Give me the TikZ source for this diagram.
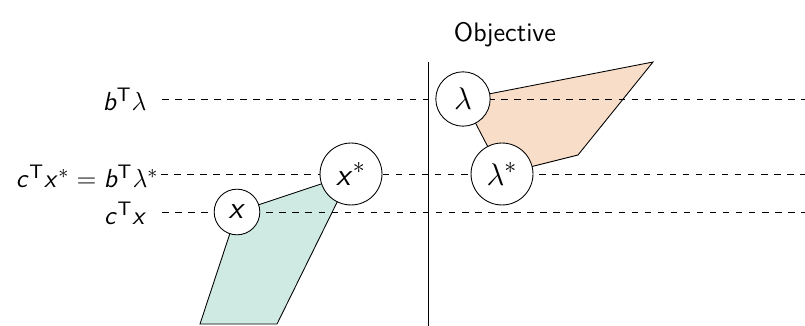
\documentclass[tikz,border=0pt]{standalone}
\usetikzlibrary{positioning}
\DeclareMathAlphabet{\mathsfit}{OT1}{cmss}{m}{sl}
\DeclareMathSizes{12.3}{12.3}{9.5}{7}
\DeclareMathSizes{14}{14}{10.5}{7.5}
\newcommand{\tp}{^{\mathsf{T}}}
\definecolor{primalfill}{HTML}{CFEAE2}
\definecolor{dualfill}{HTML}{F8DDC8}

\begin{document}
\begin{tikzpicture}[x=0.46pt, y=-0.46pt,
    font=\fontsize{12.3}{15}\selectfont,
    vertex/.style={circle, draw, fill=white, inner sep=0pt, font=\fontsize{14}{17}\selectfont},
    level/.style={dashed},
    lbl/.style={anchor=east, inner sep=0pt}]
  \useasboundingbox (0,0) rectangle (805,326);

  % corner points
  \coordinate (px) at (237,212);
  \coordinate (pxs) at (351,174);
  \coordinate (pl) at (463,99);
  \coordinate (pls) at (502,174);

  % feasible sets
  \filldraw[fill=primalfill] (200,324) -- (px) -- (pxs) -- (277,324) -- cycle;
  \filldraw[fill=dualfill] (pl) -- (653,62) -- (578,155) -- (pls) -- cycle;

  % objective axis
  \coordinate (axtop) at (428,62);
  \coordinate (axbot) at (428,326);
  \draw (axtop) -- (axbot);
  \node[font=\fontsize{12.3}{15}\selectfont\sffamily] (obj) at (505,35) {Objective};

  % levels
  \node[lbl] (lb) at (147,99) {$\mathsfit{b}\tp\lambda$};
  \node[lbl] (lopt) at (159,176) {$\mathsfit{c}\tp\mathsfit{x}^* = \mathsfit{b}\tp\lambda^*$};
  \node[lbl] (lc) at (147,213) {$\mathsfit{c}\tp\mathsfit{x}$};
  \coordinate (sb) at (162,99);
  \coordinate (eb) at (805,99);
  \coordinate (sopt) at (161,174);
  \coordinate (eopt) at (805,174);
  \coordinate (sc) at (162,212);
  \coordinate (ec) at (805,212);
  \draw[level] (sb) -- (eb);
  \draw[level] (sopt) -- (eopt);
  \draw[level] (sc) -- (ec);

  % points
  \node[vertex, minimum size=21pt] (x) at (px) {$\mathsfit{x}$};
  \node[vertex, minimum size=28.5pt] (xs) at (pxs) {$\mathsfit{x}^*$};
  \node[vertex, minimum size=25pt] (l) at (pl) {$\lambda$};
  \node[vertex, minimum size=28.5pt] (ls) at (pls) {$\lambda^*$};
\end{tikzpicture}
\end{document}
